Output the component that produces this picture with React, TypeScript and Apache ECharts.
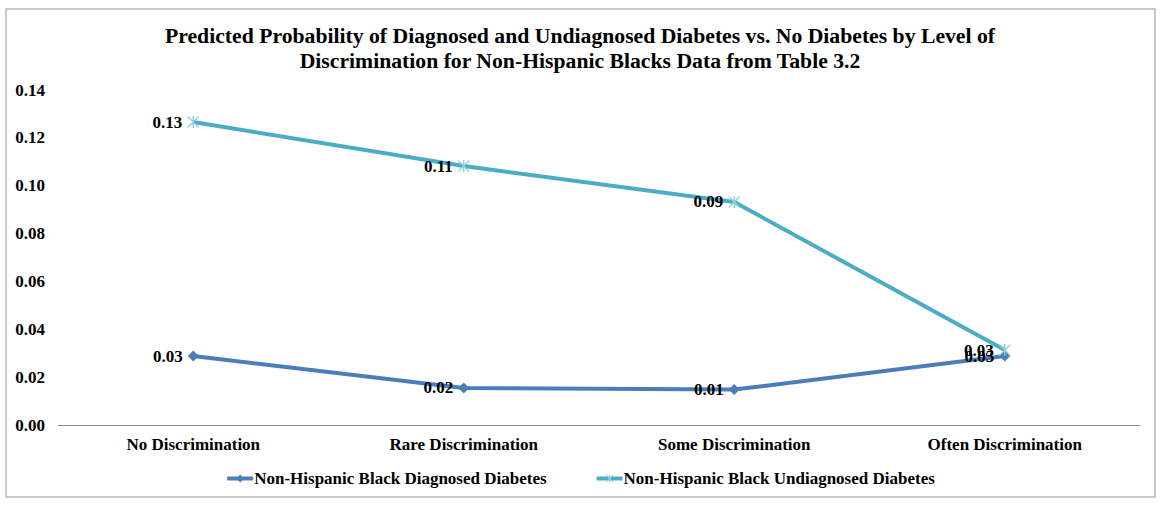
import React, { useEffect, useRef } from "react";
import * as echarts from "echarts";

const categories = [
  "No Discrimination",
  "Rare Discrimination",
  "Some Discrimination",
  "Often Discrimination",
];
const diagnosed = [0.0288, 0.0155, 0.0148, 0.0288];
const undiagnosed = [0.1266, 0.1082, 0.0932, 0.0313];
const seriesNames = [
  "Non-Hispanic Black Diagnosed Diabetes",
  "Non-Hispanic Black Undiagnosed Diabetes",
];
const titleText =
  "Predicted Probability of Diagnosed and Undiagnosed Diabetes vs. No Diabetes by Level of\nDiscrimination for Non-Hispanic Blacks Data from Table 3.2";

const FONT = "'Liberation Serif', 'Times New Roman', serif";

// asterisk marker: vertical bar plus two diagonals
const ASTERISK =
  "path://M4.4 0 L5.6 0 L5.6 10 L4.4 10 Z M0 0.8 L0.8 0 L10 9.2 L9.2 10 Z M9.2 0 L10 0.8 L0.8 10 L0 9.2 Z";

export default function App() {
  const ref = useRef<HTMLDivElement>(null);
  useEffect(() => {
    if (!ref.current) return;
    const chart = echarts.init(ref.current, undefined, { renderer: "svg" });
    const label = {
      show: true,
      position: "left" as const,
      distance: 5,
      color: "#000",
      fontFamily: FONT,
      fontWeight: "bold" as const,
      fontSize: 17,
      formatter: (p: any) => Number(p.value).toFixed(2),
    };
    chart.setOption({
      animation: false,
      backgroundColor: "#fff",
      graphic: [
        {
          type: "rect",
          shape: { x: 6, y: 9, width: 1149, height: 488 },
          style: { fill: "none", stroke: "#b8b8b8", lineWidth: 1.5 },
          silent: true,
        },
      ],
      title: {
        text: titleText,
        left: "center",
        top: 18,
        textStyle: {
          fontFamily: FONT,
          fontWeight: "bold",
          fontSize: 21.7,
          lineHeight: 25,
          color: "#000",
          align: "center",
        },
      },
      legend: {
        bottom: 15,
        left: "center",
        itemGap: 48,
        itemWidth: 26,
        itemHeight: 10,
        lineStyle: { width: 4 },
        textStyle: {
          fontFamily: FONT,
          fontWeight: "bold",
          fontSize: 17,
          color: "#000",
          padding: [0, 0, 0, -4],
        },
        data: seriesNames,
      },
      grid: { left: 58, right: 20, top: 90, bottom: 82 },
      xAxis: {
        type: "category",
        data: categories,
        boundaryGap: true,
        axisLine: { show: true, lineStyle: { color: "#8c8c8c", width: 1 } },
        axisTick: { show: false },
        axisLabel: {
          margin: 11,
          color: "#000",
          fontFamily: FONT,
          fontWeight: "bold",
          fontSize: 17,
        },
        splitLine: { show: false },
      },
      yAxis: {
        type: "value",
        min: 0,
        max: 0.14,
        interval: 0.02,
        axisLine: { show: false },
        axisTick: { show: false },
        splitLine: { show: false },
        axisLabel: {
          margin: 13,
          color: "#000",
          fontFamily: FONT,
          fontWeight: "bold",
          fontSize: 17,
          formatter: (v: number) => v.toFixed(2),
        },
      },
      series: [
        {
          name: seriesNames[0],
          type: "line",
          data: diagnosed,
          symbol: "diamond",
          symbolSize: 11,
          itemStyle: { color: "#4a7ebb" },
          lineStyle: { color: "#4a7ebb", width: 4 },
          label,
        },
        {
          name: seriesNames[1],
          type: "line",
          data: undiagnosed,
          symbol: ASTERISK,
          symbolSize: 12,
          itemStyle: { color: "#8fcfdf" },
          lineStyle: { color: "#4bacc6", width: 4 },
          label,
        },
      ],
    });
    return () => chart.dispose();
  }, []);
  return (
    <div
      ref={ref}
      style={{ position: "absolute", left: 0, top: 0, width: 1160, height: 507 }}
    />
  );
}
